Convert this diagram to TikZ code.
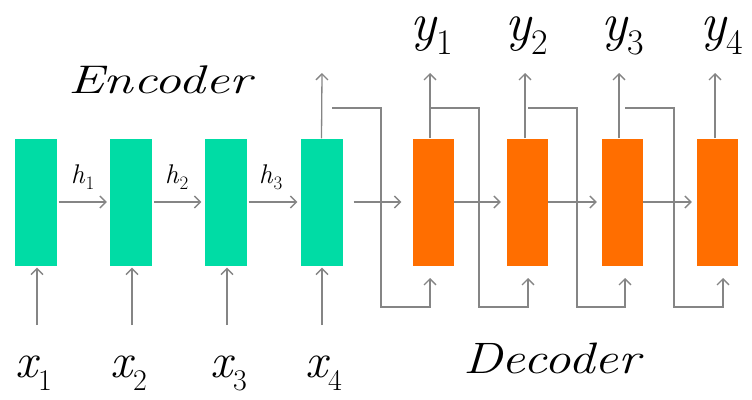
\documentclass[tikz,border=0pt]{standalone}
\usetikzlibrary{arrows.meta,calc}
\definecolor{encg}{HTML}{00DCA5}
\definecolor{deco}{HTML}{FF6E00}
\definecolor{lineg}{HTML}{858585}
\newcommand{\mylab}[5]{{\fontsize{#1}{#1}\selectfont\itshape #2}\kern1pt\raisebox{-#5pt}{\fontsize{#3}{#3}\selectfont #4}}
\begin{document}
\begin{tikzpicture}[x=1pt,y=-1pt,
  encbox/.style={fill=encg, draw=none, minimum width=42pt, minimum height=127pt, inner sep=0pt},
  decbox/.style={fill=deco, draw=none, minimum width=41pt, minimum height=127pt, inner sep=0pt},
  conn/.style={draw=lineg, line width=1.3pt, -{Straight Barb[length=6pt,width=12pt]}},
  lbl/.style={anchor=base west, inner sep=0pt, outer sep=0pt}]
\useasboundingbox (0,0) rectangle (752,399);
% boxes
\node[encbox] (e1) at (35.5,202) {};
\node[encbox] (e2) at (131,202) {};
\node[encbox] (e3) at (225.5,202) {};
\node[encbox] (e4) at (321.5,202) {};
\node[decbox] (d1) at (433,202) {};
\node[decbox] (d2) at (527.5,202) {};
\node[decbox] (d3) at (622.5,202) {};
\node[decbox] (d4) at (717.5,202) {};
% recurrent arrows
\draw[conn, shorten <=2pt, shorten >=3pt] (e1) -- (e2);
\draw[conn, shorten <=2pt, shorten >=3pt] (e2) -- (e3);
\draw[conn, shorten <=2pt, shorten >=3pt] (e3) -- (e4);
\draw[conn, shorten <=11pt, shorten >=11pt] (e4) -- (d1);
\draw[conn, shorten >=6pt] (d1) -- (d2);
\draw[conn, shorten >=5pt] (d2) -- (d3);
\draw[conn, shorten >=5pt] (d3) -- (d4);
% input arrows
\coordinate (i1) at (37,325);
\coordinate (i2) at (132,325);
\coordinate (i3) at (227,325);
\coordinate (i4) at (322,325);
\foreach \k in {1,2,3,4}{
  \draw[conn, shorten >=2pt] (i\k) -- (i\k |- e\k.south);
}
% output arrows
\coordinate (o4) at (322,73);
\draw[conn] (e4.north) -- (o4);
\coordinate (u1) at (430,73);
\coordinate (u2) at (525,73);
\coordinate (u3) at (619,73);
\coordinate (u4) at (715,73);
\foreach \k in {1,2,3,4}{
  \draw[conn] (u\k |- d\k.north) -- (u\k);
}
% skip connections
\coordinate (s1) at (332,108); \coordinate (t1) at (430,278);
\coordinate (s2) at (430,108); \coordinate (t2) at (528,278);
\coordinate (s3) at (528,108); \coordinate (t3) at (625,278);
\coordinate (s4) at (625,108); \coordinate (t4) at (723,278);
\foreach \k in {1,2,3,4}{
  \draw[conn] (s\k) -- ++(49,0) |- ($(t\k)+(0,29)$) -- (t\k);
}
% labels
\node[lbl] (X1) at (15,377) {\mylab{49}{x}{30}{1}{13}};
\node[lbl] (X2) at (110,377) {\mylab{49}{x}{30}{2}{13}};
\node[lbl] (X3) at (210,377) {\mylab{49}{x}{30}{3}{13}};
\node[lbl] (X4) at (305,377) {\mylab{49}{x}{30}{4}{13}};
\node[lbl] (Y1) at (410,40) {\mylab{54}{y}{36}{1}{14}};
\node[lbl] (Y2) at (505,40) {\mylab{54}{y}{36}{2}{14}};
\node[lbl] (Y3) at (601,40) {\mylab{54}{y}{36}{3}{14}};
\node[lbl] (Y4) at (700,40) {\mylab{54}{y}{36}{4}{14}};
\node[lbl] (H1) at (71,183) {\mylab{27}{h}{19}{1}{6}};
\node[lbl] (H2) at (165,183) {\mylab{27}{h}{19}{2}{6}};
\node[lbl] (H3) at (259,183) {\mylab{27}{h}{19}{3}{6}};
\node[lbl] (enc) at (68,93) {\scalebox{1.34}[1]{\fontsize{40}{40}\selectfont\itshape Encoder}};
\node[lbl] (dec) at (463,373) {\scalebox{1.2}[1]{\fontsize{44}{44}\selectfont\itshape Decoder}};
\end{tikzpicture}
\end{document}
